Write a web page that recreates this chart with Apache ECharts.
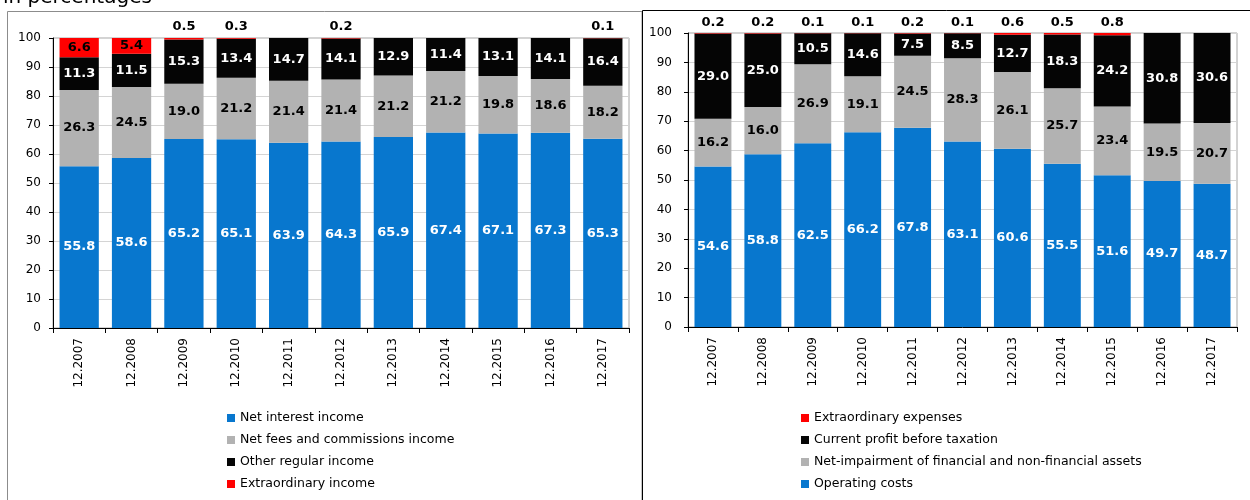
<!DOCTYPE html>
<html>
<head>
<meta charset="utf-8">
<script src="https://cdn.jsdelivr.net/npm/echarts@6/dist/echarts.min.js"></script>
<style>
html,body{margin:0;padding:0;background:#fff;}
#chart{width:1250px;height:500px;}
</style>
</head>
<body>
<div id="chart"></div>
<script>
const categories = ['12.2007','12.2008','12.2009','12.2010','12.2011','12.2012','12.2013','12.2014','12.2015','12.2016','12.2017'];

// Left panel: income structure
const netInterest = [55.8, 58.6, 65.2, 65.1, 63.9, 64.3, 65.9, 67.4, 67.1, 67.3, 65.3];
const netFees     = [26.3, 24.5, 19.0, 21.2, 21.4, 21.4, 21.2, 21.2, 19.8, 18.6, 18.2];
const otherRegular= [11.3, 11.5, 15.3, 13.4, 14.7, 14.1, 12.9, 11.4, 13.1, 14.1, 16.4];
const extraIncome = [6.6, 5.4, 0.5, 0.3, 0, 0.2, 0, 0, 0, 0, 0.1];

// Right panel: expenses structure
const operatingCosts = [54.6, 58.8, 62.5, 66.2, 67.8, 63.1, 60.6, 55.5, 51.6, 49.7, 48.7];
const netImpairment  = [16.2, 16.0, 26.9, 19.1, 24.5, 28.3, 26.1, 25.7, 23.4, 19.5, 20.7];
const currentProfit  = [29.0, 25.0, 10.5, 14.6, 7.5, 8.5, 12.7, 18.3, 24.2, 30.8, 30.6];
const extraExpenses  = [0.2, 0.2, 0.1, 0.1, 0.2, 0.1, 0.6, 0.5, 0.8, 0, 0];

const yMin = 0, yMax = 100, yStep = 10;

const C_BLUE = '#0877ce', C_GRAY = '#b2b2b2', C_BLACK = '#050505', C_RED = '#ff0000';
const FONT = 'DejaVu Sans';

function fmt(p){ return p.value > 0 ? p.value.toFixed(1) : ''; }

function seg(name, data, color, labelColor, gi, stack){
  return {
    name, type: 'bar', stack, xAxisIndex: gi, yAxisIndex: gi,
    data: data,
    barCategoryGap: gi === 0 ? '25%' : '26%',
    itemStyle: {color},
    label: {show: true, position: 'inside', color: labelColor, fontFamily: FONT, fontWeight: 'bold', fontSize: 13, formatter: fmt},
    emphasis: {disabled: true}
  };
}
function topSeg(name, data, color, gi, stack, dist){
  return {
    name, type: 'bar', stack, xAxisIndex: gi, yAxisIndex: gi,
    data: data.map(v => ({value: v, label: {position: v >= 3 ? 'inside' : 'top', distance: dist}})),
    barCategoryGap: gi === 0 ? '25%' : '26%',
    itemStyle: {color},
    label: {show: true, color: '#000', fontFamily: FONT, fontWeight: 'bold', fontSize: 13, formatter: fmt},
    emphasis: {disabled: true}
  };
}

function xAx(gi){
  return {
    type: 'category', gridIndex: gi, data: categories,
    axisLine: {lineStyle: {color: '#000', width: 1}},
    axisTick: {show: true, length: 5, lineStyle: {color: '#000'}},
    axisLabel: {rotate: 90, margin: 10, color: '#000', fontFamily: FONT, fontSize: 12}
  };
}
function yAx(gi, margin){
  return {
    type: 'value', gridIndex: gi, min: yMin, max: yMax, interval: yStep,
    axisLine: {show: true, lineStyle: {color: '#000', width: 1}},
    axisTick: {show: true, length: 4, lineStyle: {color: '#000'}},
    axisLabel: {margin, color: '#000', fontFamily: FONT, fontSize: 12},
    splitLine: {show: true, lineStyle: {color: '#d4d4d4', width: 1}}
  };
}

const chart = echarts.init(document.getElementById('chart'), null, {renderer: 'canvas'});
chart.setOption({
  animation: false,
  backgroundColor: '#fff',
  textStyle: {fontFamily: FONT},
  graphic: [
    {type: 'rect', shape: {x: 7.5, y: 11.5, width: 634.5, height: 520}, style: {fill: 'none', stroke: '#8c8c8c', lineWidth: 1}, silent: true},
    {type: 'rect', shape: {x: 642.5, y: 10.5, width: 640, height: 520}, style: {fill: 'none', stroke: '#000', lineWidth: 1}, silent: true},
    {type: 'text', left: 3, top: -12, style: {text: 'in percentages', font: '20px DejaVu Sans', fill: '#000'}, silent: true}
  ],
  grid: [
    {left: 53, top: 38, width: 576, height: 290, show: true, borderColor: '#a6a6a6', borderWidth: 1},
    {left: 688, top: 33, width: 549, height: 294, show: true, borderColor: '#a6a6a6', borderWidth: 1}
  ],
  xAxis: [xAx(0), xAx(1)],
  yAxis: [yAx(0, 12), yAx(1, 16)],
  legend: [
    {
      orient: 'vertical', left: 222, top: 406, itemWidth: 8, itemHeight: 8, itemGap: 8, icon: 'rect',
      textStyle: {fontFamily: FONT, fontSize: 12.5, color: '#000', lineHeight: 14},
      data: ['Net interest income', 'Net fees and commissions income', 'Other regular income', 'Extraordinary income'],
      selectedMode: false
    },
    {
      orient: 'vertical', left: 796, top: 406, itemWidth: 8, itemHeight: 8, itemGap: 8, icon: 'rect',
      textStyle: {fontFamily: FONT, fontSize: 12.5, color: '#000', lineHeight: 14},
      data: ['Extraordinary expenses', 'Current profit before taxation', 'Net-impairment of financial and non-financial assets', 'Operating costs'],
      selectedMode: false
    }
  ],
  series: [
    seg('Net interest income', netInterest, C_BLUE, '#fff', 0, 'L'),
    seg('Net fees and commissions income', netFees, C_GRAY, '#000', 0, 'L'),
    seg('Other regular income', otherRegular, C_BLACK, '#fff', 0, 'L'),
    topSeg('Extraordinary income', extraIncome, C_RED, 0, 'L', 5),
    seg('Operating costs', operatingCosts, C_BLUE, '#fff', 1, 'R'),
    seg('Net-impairment of financial and non-financial assets', netImpairment, C_GRAY, '#000', 1, 'R'),
    seg('Current profit before taxation', currentProfit, C_BLACK, '#fff', 1, 'R'),
    topSeg('Extraordinary expenses', extraExpenses, C_RED, 1, 'R', 4)
  ]
});
</script>
</body>
</html>
